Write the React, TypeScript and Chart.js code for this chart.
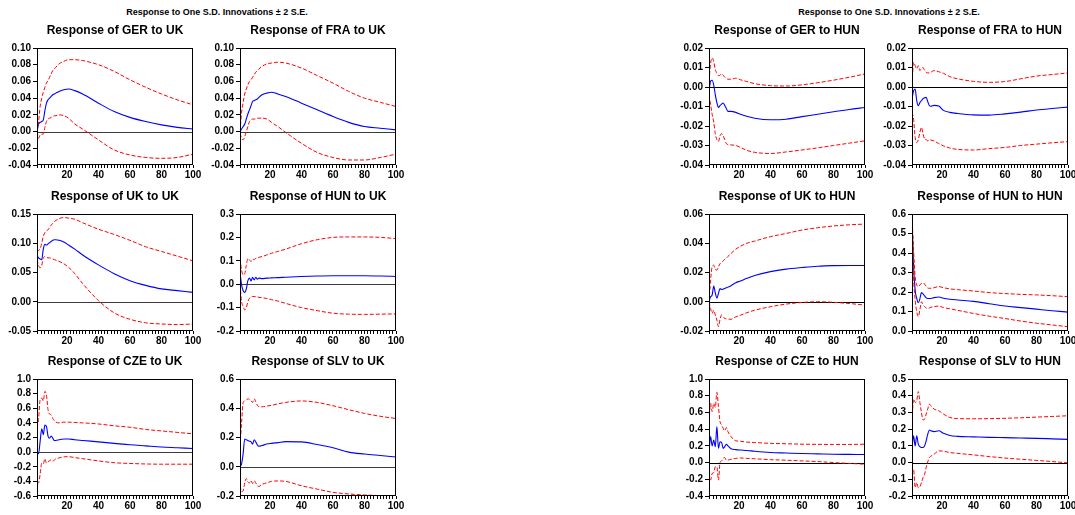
import React, { useEffect, useRef } from "react";
import { Chart, registerables } from "chart.js";

Chart.register(...registerables);

// ---------------- DATA ----------------
const periods = [1, 2, 3, 4, 5, 6, 7, 8, 9, 10, 11, 12, 13, 15, 18, 21, 25, 30, 40, 50, 60, 70, 80, 90, 100];
const xTickLabels = [20, 40, 60, 80, 100];
const mainTitle = "Response to One S.D. Innovations \u00b1 2 S.E.";

// GER to UK
const gerUkResp = [0, 0.009, 0.011, 0.012, 0.014, 0.025, 0.034, 0.038, 0.040, 0.042, 0.044, 0.045, 0.046, 0.048, 0.050, 0.051, 0.049, 0.045, 0.034, 0.024, 0.017, 0.012, 0.008, 0.005, 0.003];
const gerUkUpper = [0, 0.012, 0.030, 0.040, 0.047, 0.053, 0.058, 0.061, 0.065, 0.069, 0.073, 0.075, 0.077, 0.081, 0.084, 0.086, 0.086, 0.085, 0.080, 0.072, 0.062, 0.053, 0.045, 0.038, 0.032];
const gerUkLower = [0, -0.008, -0.004, -0.003, -0.003, 0.005, 0.012, 0.015, 0.016, 0.017, 0.018, 0.019, 0.019, 0.020, 0.019, 0.016, 0.009, 0.003, -0.010, -0.022, -0.028, -0.031, -0.032, -0.031, -0.027];

// FRA to UK
const fraUkResp = [0, 0.003, 0.006, 0.009, 0.015, 0.021, 0.026, 0.031, 0.036, 0.037, 0.038, 0.039, 0.041, 0.044, 0.046, 0.047, 0.045, 0.042, 0.034, 0.026, 0.018, 0.011, 0.006, 0.004, 0.002];
const fraUkUpper = [0, 0.023, 0.035, 0.045, 0.051, 0.056, 0.060, 0.062, 0.065, 0.068, 0.071, 0.073, 0.075, 0.078, 0.081, 0.082, 0.083, 0.082, 0.076, 0.067, 0.058, 0.048, 0.040, 0.035, 0.030];
const fraUkLower = [-0.002, -0.008, -0.010, -0.006, 0.000, 0.006, 0.012, 0.014, 0.015, 0.015, 0.015, 0.016, 0.016, 0.016, 0.015, 0.011, 0.006, -0.001, -0.014, -0.025, -0.031, -0.034, -0.034, -0.031, -0.027];

// UK to UK
const ukUkResp = [0.079, 0.075, 0.073, 0.072, 0.090, 0.098, 0.097, 0.099, 0.101, 0.103, 0.105, 0.106, 0.106, 0.105, 0.102, 0.097, 0.090, 0.080, 0.063, 0.048, 0.036, 0.028, 0.022, 0.019, 0.016];
const ukUkUpper = [0.085, 0.088, 0.090, 0.100, 0.112, 0.118, 0.121, 0.123, 0.127, 0.131, 0.134, 0.137, 0.139, 0.142, 0.144, 0.143, 0.141, 0.135, 0.124, 0.115, 0.105, 0.094, 0.086, 0.078, 0.070];
const ukUkLower = [0.072, 0.062, 0.058, 0.062, 0.075, 0.077, 0.076, 0.075, 0.075, 0.074, 0.073, 0.072, 0.071, 0.069, 0.065, 0.059, 0.048, 0.031, 0.002, -0.019, -0.030, -0.036, -0.038, -0.039, -0.038];

// HUN to UK
const hunUkResp = [0.05, -0.003, -0.028, -0.035, -0.02, 0.015, 0.026, 0.014, 0.03, 0.018, 0.03, 0.021, 0.026, 0.024, 0.026, 0.027, 0.028, 0.030, 0.033, 0.035, 0.036, 0.036, 0.036, 0.035, 0.033];
const hunUkUpper = [0.11, 0.06, 0.04, 0.045, 0.08, 0.11, 0.104, 0.097, 0.107, 0.105, 0.111, 0.112, 0.115, 0.118, 0.125, 0.132, 0.14, 0.15, 0.173, 0.19, 0.2, 0.202, 0.202, 0.2, 0.195];
const hunUkLower = [0.0, -0.074, -0.095, -0.11, -0.1, -0.075, -0.06, -0.055, -0.052, -0.053, -0.053, -0.055, -0.056, -0.058, -0.061, -0.066, -0.072, -0.082, -0.1, -0.113, -0.124, -0.128, -0.129, -0.128, -0.127];

// CZE to UK
const czeUkResp = [-0.02, -0.02, 0.15, 0.32, 0.24, 0.37, 0.35, 0.22, 0.19, 0.22, 0.19, 0.16, 0.16, 0.17, 0.18, 0.18, 0.17, 0.16, 0.14, 0.12, 0.10, 0.085, 0.07, 0.06, 0.05];
const czeUkUpper = [0.33, 0.45, 0.72, 0.74, 0.70, 0.83, 0.78, 0.58, 0.52, 0.51, 0.46, 0.43, 0.41, 0.40, 0.41, 0.41, 0.405, 0.40, 0.385, 0.36, 0.34, 0.31, 0.29, 0.27, 0.25];
const czeUkLower = [-0.40, -0.42, -0.30, -0.15, -0.16, -0.09, -0.15, -0.13, -0.12, -0.10, -0.12, -0.11, -0.09, -0.08, -0.065, -0.062, -0.075, -0.09, -0.12, -0.145, -0.155, -0.162, -0.165, -0.165, -0.165];

// SLV to UK
const slvUkResp = [0.0, 0.02, 0.09, 0.19, 0.185, 0.18, 0.175, 0.17, 0.155, 0.185, 0.17, 0.15, 0.14, 0.145, 0.155, 0.16, 0.165, 0.172, 0.17, 0.152, 0.13, 0.10, 0.087, 0.077, 0.067];
const slvUkUpper = [0.14, 0.3, 0.44, 0.45, 0.455, 0.465, 0.46, 0.45, 0.44, 0.465, 0.445, 0.42, 0.41, 0.41, 0.415, 0.42, 0.43, 0.44, 0.45, 0.44, 0.417, 0.39, 0.365, 0.345, 0.33];
const slvUkLower = [-0.13, -0.17, -0.165, -0.11, -0.08, -0.105, -0.11, -0.095, -0.115, -0.095, -0.11, -0.13, -0.135, -0.12, -0.11, -0.1, -0.097, -0.1, -0.13, -0.153, -0.175, -0.186, -0.193, -0.197, -0.2];

// GER to HUN
const gerHunResp = [-0.002, 0.003, 0.0035, 0.001, -0.004, -0.008, -0.0105, -0.0095, -0.0088, -0.0082, -0.0095, -0.011, -0.0125, -0.0125, -0.013, -0.014, -0.015, -0.016, -0.0168, -0.0165, -0.0152, -0.014, -0.0127, -0.0115, -0.0105];
const gerHunUpper = [0.003, 0.012, 0.015, 0.013, 0.009, 0.007, 0.0058, 0.006, 0.0067, 0.006, 0.005, 0.0045, 0.004, 0.004, 0.0045, 0.0037, 0.0028, 0.0017, 0.0007, 0.0005, 0.0011, 0.0022, 0.0035, 0.005, 0.0067];
const gerHunLower = [-0.004, -0.009, -0.014, -0.018, -0.024, -0.027, -0.028, -0.025, -0.024, -0.025, -0.027, -0.029, -0.0295, -0.0297, -0.030, -0.031, -0.0325, -0.0335, -0.0341, -0.0333, -0.0323, -0.0312, -0.030, -0.0288, -0.0276];

// FRA to HUN
const fraHunResp = [-0.006, -0.002, -0.001, -0.007, -0.0096, -0.008, -0.007, -0.006, -0.0055, -0.0053, -0.0075, -0.0095, -0.0099, -0.0094, -0.0098, -0.012, -0.013, -0.0136, -0.0143, -0.0144, -0.0138, -0.0129, -0.0118, -0.011, -0.0103];
const fraHunUpper = [0.0015, 0.0127, 0.011, 0.0093, 0.011, 0.0084, 0.0095, 0.01, 0.0085, 0.0075, 0.0072, 0.0072, 0.0076, 0.0084, 0.0078, 0.007, 0.0053, 0.0042, 0.0029, 0.0024, 0.0028, 0.0042, 0.0056, 0.0064, 0.0072];
const fraHunLower = [-0.013, -0.0165, -0.026, -0.0285, -0.027, -0.0233, -0.0207, -0.024, -0.0267, -0.027, -0.0277, -0.027, -0.0272, -0.0277, -0.029, -0.0302, -0.0313, -0.032, -0.0323, -0.0316, -0.031, -0.030, -0.0293, -0.0286, -0.028];

// UK to HUN
const ukHunResp = [0.0, 0.0034, 0.0046, 0.0107, 0.006, 0.0025, 0.0057, 0.009, 0.0084, 0.0087, 0.009, 0.0095, 0.0100, 0.011, 0.013, 0.0142, 0.016, 0.018, 0.0206, 0.0223, 0.0234, 0.0243, 0.0247, 0.0248, 0.0248];
const ukHunUpper = [0.0, 0.0148, 0.024, 0.025, 0.022, 0.0217, 0.024, 0.026, 0.027, 0.028, 0.029, 0.0298, 0.031, 0.033, 0.036, 0.038, 0.040, 0.0415, 0.0445, 0.0467, 0.049, 0.0506, 0.0518, 0.0526, 0.0531];
const ukHunLower = [0.0, -0.0046, -0.008, -0.0057, -0.009, -0.0125, -0.017, -0.012, -0.009, -0.0103, -0.0114, -0.0116, -0.0118, -0.012, -0.0103, -0.0092, -0.0075, -0.0058, -0.0034, -0.0016, -0.0005, 0.0, -0.0004, -0.0012, -0.0023];

// HUN to HUN
const hunHunResp = [0.586, 0.33, 0.21, 0.167, 0.145, 0.165, 0.197, 0.19, 0.18, 0.17, 0.167, 0.167, 0.167, 0.171, 0.174, 0.168, 0.163, 0.159, 0.152, 0.14, 0.128, 0.12, 0.112, 0.104, 0.097];
const hunHunUpper = [0.586, 0.415, 0.28, 0.236, 0.228, 0.236, 0.245, 0.248, 0.24, 0.23, 0.22, 0.219, 0.219, 0.222, 0.228, 0.222, 0.216, 0.212, 0.205, 0.197, 0.192, 0.188, 0.185, 0.181, 0.176];
const hunHunLower = [0.586, 0.28, 0.16, 0.1, 0.074, 0.108, 0.15, 0.134, 0.125, 0.118, 0.116, 0.118, 0.122, 0.125, 0.128, 0.12, 0.114, 0.106, 0.09, 0.076, 0.064, 0.051, 0.04, 0.031, 0.022];

// CZE to HUN
const czeHunResp = [0.11, 0.31, 0.2, 0.27, 0.19, 0.43, 0.17, 0.25, 0.24, 0.17, 0.19, 0.22, 0.2, 0.165, 0.155, 0.15, 0.145, 0.135, 0.12, 0.114, 0.108, 0.104, 0.1, 0.098, 0.096];
const czeHunUpper = [0.49, 0.71, 0.61, 0.71, 0.66, 0.84, 0.67, 0.49, 0.45, 0.41, 0.38, 0.42, 0.37, 0.31, 0.26, 0.255, 0.245, 0.24, 0.23, 0.225, 0.22, 0.218, 0.217, 0.217, 0.22];
const czeHunLower = [-0.13, -0.21, -0.13, -0.12, -0.05, -0.05, -0.21, 0.0, 0.02, 0.05, 0.06, 0.03, 0.03, 0.04, 0.05, 0.055, 0.05, 0.045, 0.035, 0.028, 0.02, 0.012, 0.0, -0.01, -0.02];

// SLV to HUN
const slvHunResp = [0.085, 0.16, 0.1, 0.16, 0.11, 0.095, 0.09, 0.09, 0.1, 0.13, 0.17, 0.195, 0.19, 0.185, 0.19, 0.175, 0.162, 0.157, 0.154, 0.151, 0.149, 0.147, 0.145, 0.142, 0.139];
const slvHunUpper = [0.245, 0.38, 0.36, 0.37, 0.425, 0.36, 0.3, 0.255, 0.26, 0.29, 0.32, 0.35, 0.34, 0.32, 0.31, 0.29, 0.27, 0.263, 0.262, 0.263, 0.265, 0.268, 0.272, 0.276, 0.28];
const slvHunLower = [-0.066, -0.04, -0.15, -0.12, -0.15, -0.145, -0.12, -0.09, -0.07, -0.03, 0.004, 0.03, 0.038, 0.05, 0.07, 0.068, 0.06, 0.055, 0.046, 0.036, 0.027, 0.02, 0.013, 0.006, -0.002];

// ---------------- CONFIG ----------------
type Cfg = {
  title: string;
  resp: number[];
  upper: number[];
  lower: number[];
  yMin: number;
  yMax: number;
  yStep: number;
  dec: number;
  col: number;
  row: number;
};

const charts: Cfg[] = [
  { title: "Response of GER to UK", resp: gerUkResp, upper: gerUkUpper, lower: gerUkLower, yMin: -0.04, yMax: 0.1, yStep: 0.02, dec: 2, col: 0, row: 0 },
  { title: "Response of FRA to UK", resp: fraUkResp, upper: fraUkUpper, lower: fraUkLower, yMin: -0.04, yMax: 0.1, yStep: 0.02, dec: 2, col: 1, row: 0 },
  { title: "Response of UK to UK", resp: ukUkResp, upper: ukUkUpper, lower: ukUkLower, yMin: -0.05, yMax: 0.15, yStep: 0.05, dec: 2, col: 0, row: 1 },
  { title: "Response of HUN to UK", resp: hunUkResp, upper: hunUkUpper, lower: hunUkLower, yMin: -0.2, yMax: 0.3, yStep: 0.1, dec: 1, col: 1, row: 1 },
  { title: "Response of CZE to UK", resp: czeUkResp, upper: czeUkUpper, lower: czeUkLower, yMin: -0.6, yMax: 1.0, yStep: 0.2, dec: 1, col: 0, row: 2 },
  { title: "Response of SLV to UK", resp: slvUkResp, upper: slvUkUpper, lower: slvUkLower, yMin: -0.2, yMax: 0.6, yStep: 0.2, dec: 1, col: 1, row: 2 },
  { title: "Response of GER to HUN", resp: gerHunResp, upper: gerHunUpper, lower: gerHunLower, yMin: -0.04, yMax: 0.02, yStep: 0.01, dec: 2, col: 2, row: 0 },
  { title: "Response of FRA to HUN", resp: fraHunResp, upper: fraHunUpper, lower: fraHunLower, yMin: -0.04, yMax: 0.02, yStep: 0.01, dec: 2, col: 3, row: 0 },
  { title: "Response of UK to HUN", resp: ukHunResp, upper: ukHunUpper, lower: ukHunLower, yMin: -0.02, yMax: 0.06, yStep: 0.02, dec: 2, col: 2, row: 1 },
  { title: "Response of HUN to HUN", resp: hunHunResp, upper: hunHunUpper, lower: hunHunLower, yMin: 0, yMax: 0.6, yStep: 0.1, dec: 1, col: 3, row: 1 },
  { title: "Response of CZE to HUN", resp: czeHunResp, upper: czeHunUpper, lower: czeHunLower, yMin: -0.4, yMax: 1.0, yStep: 0.2, dec: 1, col: 2, row: 2 },
  { title: "Response of SLV to HUN", resp: slvHunResp, upper: slvHunUpper, lower: slvHunLower, yMin: -0.2, yMax: 0.5, yStep: 0.1, dec: 1, col: 3, row: 2 },
];

// ---------------- LAYOUT ----------------
const COL_LEFT = [37, 240, 709, 912];
const ROW_TOP = [48, 214, 379];
const PLOT_W = 156;
const PLOT_H = 117;
const Y_AXIS_W = 40;
const X_AXIS_H = 18;
const PAD_TOP = 36;
const PAD_RIGHT = 14;
const FONT = "'Liberation Sans', Arial, Helvetica, sans-serif";

Chart.defaults.font.family = FONT;

function SubChart({ cfg }: { cfg: Cfg }) {
  const ref = useRef<HTMLCanvasElement | null>(null);
  const cw = Y_AXIS_W + PLOT_W + PAD_RIGHT;
  const ch = PAD_TOP + PLOT_H + X_AXIS_H;
  const left = COL_LEFT[cfg.col] - Y_AXIS_W;
  const top = ROW_TOP[cfg.row] - PAD_TOP;

  useEffect(() => {
    if (!ref.current) return;
    const zeroColor = cfg.col < 2 ? "#3c3c3c" : "#000000";
    const decor = {
      id: "decor",
      beforeDatasetsDraw(chart: any) {
        const { ctx, chartArea } = chart;
        const ys = chart.scales.y;
        if (0 > cfg.yMin && 0 < cfg.yMax) {
          const y = Math.round(ys.getPixelForValue(0)) + 0.5;
          ctx.save();
          ctx.strokeStyle = zeroColor;
          ctx.lineWidth = 1;
          ctx.beginPath();
          ctx.moveTo(chartArea.left, y);
          ctx.lineTo(chartArea.right, y);
          ctx.stroke();
          ctx.restore();
        }
      },
      afterDraw(chart: any) {
        const { ctx, chartArea } = chart;
        ctx.save();
        ctx.strokeStyle = "#000";
        ctx.lineWidth = 1;
        ctx.strokeRect(
          Math.round(chartArea.left) + 0.5,
          Math.round(chartArea.top) + 0.5,
          Math.round(chartArea.right - chartArea.left) - 1,
          Math.round(chartArea.bottom - chartArea.top) - 1
        );
        ctx.fillStyle = "#000";
        ctx.font = `bold 12px ${FONT}`;
        ctx.textAlign = "center";
        ctx.textBaseline = "middle";
        ctx.fillText(cfg.title, (chartArea.left + chartArea.right) / 2, chartArea.top - 17);
        ctx.restore();
      },
    };

    const mk = (vals: number[]) => periods.map((p, i) => ({ x: p, y: vals[i] }));

    const chart = new Chart(ref.current, {
      type: "line",
      data: {
        datasets: [
          { data: mk(cfg.upper), borderColor: "#ff0000", borderWidth: 1, borderDash: [4, 2], pointRadius: 0, cubicInterpolationMode: "monotone", fill: false },
          { data: mk(cfg.lower), borderColor: "#ff0000", borderWidth: 1, borderDash: [4, 2], pointRadius: 0, cubicInterpolationMode: "monotone", fill: false },
          { data: mk(cfg.resp), borderColor: "#0000ff", borderWidth: 1.1, pointRadius: 0, cubicInterpolationMode: "monotone", fill: false },
        ],
      },
      options: {
        animation: false,
        responsive: false,
        maintainAspectRatio: false,
        devicePixelRatio: 1,
        events: [],
        layout: { padding: { top: PAD_TOP, right: PAD_RIGHT, left: 0, bottom: 0 } },
        plugins: { legend: { display: false }, tooltip: { enabled: false }, title: { display: false } },
        scales: {
          x: {
            type: "linear",
            min: 1,
            max: 100,
            border: { display: false },
            grid: { drawOnChartArea: false, drawTicks: true, tickLength: 3, color: "#000" },
            ticks: {
              stepSize: 2,
              autoSkip: false,
              maxRotation: 0,
              minRotation: 0,
              padding: 1,
              color: "#000",
              font: { size: 10, weight: "bold" },
              callback: (v: any) => (xTickLabels.includes(Number(v)) ? String(v) : ""),
            },
            afterFit: (s: any) => {
              s.height = X_AXIS_H;
            },
          },
          y: {
            type: "linear",
            min: cfg.yMin,
            max: cfg.yMax,
            border: { display: false },
            grid: { drawOnChartArea: false, drawTicks: true, tickLength: 4, color: "#000" },
            ticks: {
              stepSize: cfg.yStep,
              autoSkip: false,
              padding: 2,
              color: "#000",
              font: { size: 10, weight: "bold" },
              callback: (v: any) => {
                let n = Number(v);
                if (Math.abs(n) < 1e-9) n = 0;
                return n.toFixed(cfg.dec);
              },
            },
            afterFit: (s: any) => {
              s.width = Y_AXIS_W;
            },
          },
        },
      } as any,
      plugins: [decor],
    });
    return () => chart.destroy();
  }, []);

  return (
    <canvas
      ref={ref}
      width={cw}
      height={ch}
      style={{ position: "absolute", left, top, width: cw, height: ch }}
    />
  );
}

export default function App() {
  return (
    <div
      style={{
        position: "fixed",
        left: 0,
        top: 0,
        width: 1075,
        height: 515,
        background: "#fff",
        overflow: "hidden",
      }}
    >
      {[217, 889].map((cx) => (
        <div
          key={cx}
          style={{
            position: "absolute",
            left: cx - 150,
            top: 6,
            width: 300,
            textAlign: "center",
            font: `bold 9px ${FONT}`,
            lineHeight: "12px",
            color: "#000",
          }}
        >
          {mainTitle}
        </div>
      ))}
      {charts.map((c) => (
        <SubChart key={c.title} cfg={c} />
      ))}
    </div>
  );
}
